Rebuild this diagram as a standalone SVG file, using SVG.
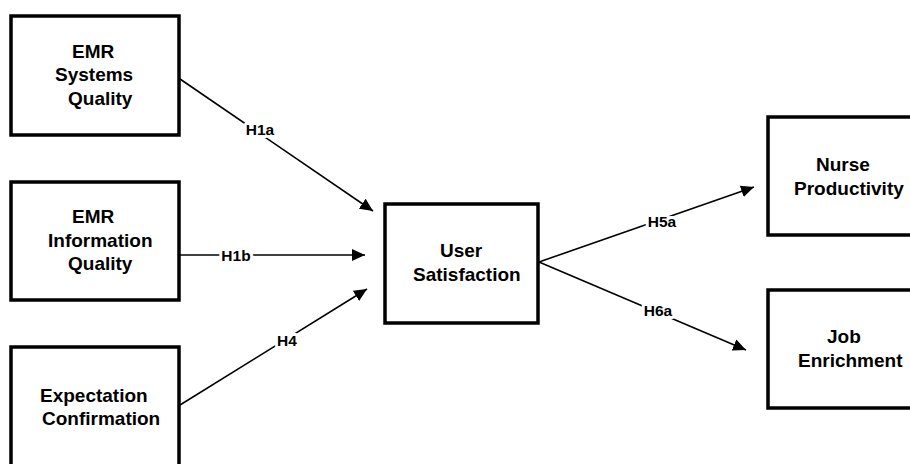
<svg xmlns="http://www.w3.org/2000/svg" width="910" height="464" viewBox="0 0 910 464">
<style>
.box{fill:#fff;stroke:#000;stroke-width:3.5}
.t{font-family:"Liberation Sans",Arial,sans-serif;font-weight:bold;font-size:19px;fill:#000}
.lbl{font-family:"Liberation Sans",Arial,sans-serif;font-weight:bold;font-size:15.5px;fill:#000;text-anchor:middle;stroke:#fff;stroke-width:6;paint-order:stroke;stroke-linejoin:round}
.c{stroke:#000;stroke-width:1.6;fill:none;marker-end:url(#ah)}
</style>
<defs>
<marker id="ah" markerUnits="userSpaceOnUse" markerWidth="14" markerHeight="12" refX="13" refY="6" orient="auto">
<path d="M0,0 L13,6 L0,12 Z" fill="#000"/>
</marker>
</defs>
<rect width="910" height="464" fill="#fff"/>
<g id="connectors">
<line class="c" x1="180" y1="79" x2="373" y2="211"/>
<line class="c" x1="180" y1="255" x2="365" y2="255"/>
<line class="c" x1="180" y1="405" x2="367" y2="289"/>
<line class="c" x1="539" y1="262" x2="754" y2="187"/>
<line class="c" x1="539" y1="262" x2="746" y2="350"/>
<text class="lbl" x="260" y="135">H1a</text>
<text class="lbl" x="236" y="261">H1b</text>
<text class="lbl" x="287" y="346">H4</text>
<text class="lbl" x="662" y="227">H5a</text>
<text class="lbl" x="658" y="316">H6a</text>
</g>
<g id="emr-systems-quality">
<rect class="box" x="11" y="16" width="168" height="119"/>
<text class="t" x="72" y="58">EMR</text>
<text class="t" x="55" y="81">Systems</text>
<text class="t" x="68" y="105">Quality</text>
</g>
<g id="emr-information-quality">
<rect class="box" x="11" y="182" width="168" height="118"/>
<text class="t" x="72" y="223">EMR</text>
<text class="t" x="48" y="247">Information</text>
<text class="t" x="68" y="270">Quality</text>
</g>
<g id="expectation-confirmation">
<rect class="box" x="11" y="347" width="168" height="140"/>
<text class="t" x="40" y="402">Expectation</text>
<text class="t" x="42" y="425">Confirmation</text>
</g>
<g id="user-satisfaction">
<rect class="box" x="385" y="204" width="153" height="119"/>
<text class="t" x="440" y="257">User</text>
<text class="t" x="413" y="281">Satisfaction</text>
</g>
<g id="nurse-productivity">
<rect class="box" x="768" y="117" width="170" height="118"/>
<text class="t" x="816" y="171">Nurse</text>
<text class="t" x="794" y="195">Productivity</text>
</g>
<g id="job-enrichment">
<rect class="box" x="768" y="290" width="170" height="118"/>
<text class="t" x="827" y="343">Job</text>
<text class="t" x="798" y="367">Enrichment</text>
</g>
</svg>
